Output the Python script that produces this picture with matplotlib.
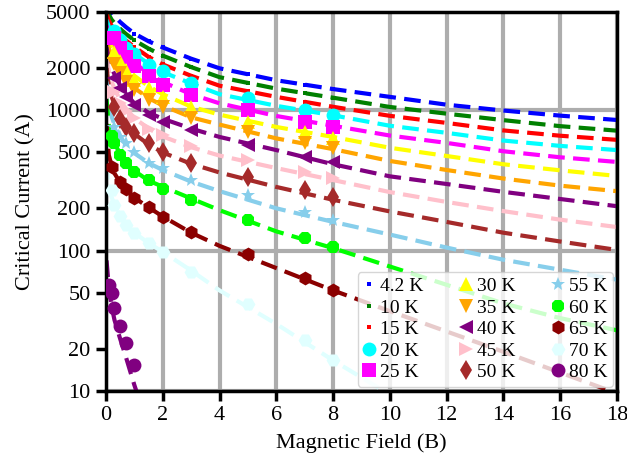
import matplotlib
matplotlib.use("Agg")
import matplotlib.pyplot as plt
from matplotlib.ticker import FixedLocator, FixedFormatter

plt.rcParams['font.family'] = ['Liberation Serif', 'DejaVu Serif']

# ---------------- data ----------------
temps = ["4.2 K", "10 K", "15 K", "20 K", "25 K", "30 K", "35 K", "40 K",
         "45 K", "50 K", "55 K", "60 K", "65 K", "70 K", "80 K"]
colors = ["#0000FF", "#008000", "#FF0000", "#00FFFF", "#FF00FF", "#FFFF00",
          "#FFA500", "#800080", "#FFC0CB", "#A52A2A", "#87CEEB", "#00FF00",
          "#8B0000", "#E0FFFF", "#800080"]
markers = ["s", "s", "s", "o", "s", "^", "v", "<", ">", "d", "*", "8", "h", "H", "o"]
msizes = [3, 3, 3, 10, 10, 10, 10, 10, 10, 10, 10, 10, 10, 10, 10]

# fitted (dashed) curves, sampled at these fields (T)
B_fit = [0.02, 0.1, 0.2, 0.3, 0.5, 0.7, 1, 1.5, 2, 3, 4, 6, 8, 10, 12, 14, 16, 18]
fit_42K = [6200, 5400, 4950, 4680, 4250, 3920, 3520, 3100, 2800, 2330, 1990, 1635, 1415, 1245, 1095, 995, 915, 852]
fit_10K = [5400, 4800, 4420, 4180, 3800, 3500, 3150, 2750, 2450, 2030, 1720, 1425, 1228, 1055, 945, 850, 770, 715]
fit_15K = [4900, 4350, 4000, 3800, 3430, 3150, 2820, 2400, 2120, 1760, 1495, 1245, 1058, 912, 812, 718, 658, 615]
fit_20K = [4400, 3950, 3650, 3450, 3120, 2850, 2530, 2140, 1870, 1550, 1300, 1075, 920, 775, 690, 608, 557, 520]
fit_25K = [4000, 3600, 3300, 3100, 2780, 2500, 2180, 1820, 1590, 1300, 1120, 910, 775, 660, 585, 510, 462, 428]
fit_30K = [3600, 3150, 2850, 2630, 2280, 2030, 1760, 1480, 1300, 1060, 930, 760, 645, 540, 472, 412, 373, 340]
fit_35K = [3200, 2750, 2450, 2230, 1900, 1680, 1440, 1220, 1080, 890, 790, 630, 528, 435, 375, 326, 290, 265]
fit_40K = [2800, 2300, 2000, 1800, 1500, 1310, 1120, 960, 870, 740, 645, 520, 412, 338, 298, 262, 233, 207]
fit_45K = [2400, 1900, 1600, 1420, 1180, 1030, 880, 740, 650, 545, 475, 387, 318, 261, 222, 191, 166, 147]
fit_50K = [2000, 1500, 1250, 1100, 900, 790, 680, 570, 500, 415, 360, 284, 230, 190, 160, 134, 116, 101]
fit_55K = [1600, 1100, 900, 790, 650, 570, 495, 420, 375, 310, 265, 200, 160, 130, 105, 86, 73, 62]
fit_60K = [1200, 780, 650, 580, 490, 430, 370, 315, 285, 235, 194, 137, 104, 77, 57, 42, 33, 27]
fit_65K = [800, 480, 400, 355, 305, 272, 238, 203, 175, 134, 108, 75, 52, 37, 26.5, 19, 13.5, 9.6]
fit_70K = [420, 290, 240, 212, 178, 155, 134, 113, 98, 72, 52, 30, 16.5, 9.4, 5.3, 3.0, 1.7, 1.0]
fit_80K = [85, 55, 40, 32, 23.5, 17.5, 11, 5.5, 3.0, 1.0, 0.5, 0.2, 0.1, 0.1, 0.1, 0.1, 0.1, 0.1]

# measured points
B_a = [1, 1.5, 2, 3, 5, 7, 8]
B_b = [0.3, 0.5, 0.7, 1, 1.5, 2, 3, 5, 7, 8]
B_c = [0.2, 0.3, 0.5, 0.7, 1, 1.5, 2, 3, 5, 7, 8]
B_d = [0.2, 0.5, 0.7, 1, 1.5, 2, 3, 5, 7, 8]
B_e = [0.1, 0.2, 0.3, 0.5, 0.7, 1]
dat_42K = [3520, 3100, 2800, 2330, 1800, 1520, 1415]
dat_10K = [3150, 2750, 2450, 2030, 1560, 1320, 1228]
dat_15K = [2820, 2400, 2120, 1760, 1360, 1140, 1058]
dat_20K = [3660, 3160, 2770, 2510, 2097, 1900, 1560, 1219, 1002, 923]
dat_25K = [3266, 2770, 2400, 2061, 1750, 1510, 1282, 1002, 824, 759]
dat_30K = [2600, 2250, 1950, 1640, 1438, 1250, 1052, 824, 699, 633]
dat_35K = [2150, 1850, 1600, 1391, 1180, 1052, 879, 699, 583, 537]
dat_40K = [1700, 1450, 1250, 1088, 923, 824, 722, 565, 464, 427]
dat_45K = [1350, 1130, 990, 879, 740, 665, 560, 441, 362, 329]
dat_50K = [1050, 870, 760, 687, 583, 503, 420, 334, 270, 240]
dat_55K = [760, 640, 583, 503, 421, 385, 318, 249, 188, 165]
dat_60K = [650, 583, 480, 421, 362, 318, 274, 229, 165, 123, 106]
dat_65K = [394, 308, 274, 237, 204, 173, 135, 94, 63.7, 52.4]
dat_70K = [270, 211, 176, 152, 133, 113, 97.7, 70.3, 41.6, 23.1, 16.6]
dat_80K = [57, 50, 39, 29, 22, 15.3]

fits = [fit_42K, fit_10K, fit_15K, fit_20K, fit_25K, fit_30K, fit_35K, fit_40K,
        fit_45K, fit_50K, fit_55K, fit_60K, fit_65K, fit_70K, fit_80K]
meas_B = [B_a, B_a, B_a, B_b, B_b, B_b, B_b, B_b, B_b, B_b, B_b, B_c, B_d, B_c, B_e]
meas_I = [dat_42K, dat_10K, dat_15K, dat_20K, dat_25K, dat_30K, dat_35K, dat_40K,
          dat_45K, dat_50K, dat_55K, dat_60K, dat_65K, dat_70K, dat_80K]

x_ticks = [0, 2, 4, 6, 8, 10, 12, 14, 16, 18]
y_major = [10, 100, 1000]
y_minor = [20, 50, 200, 500, 2000, 5000]

# ---------------- plot ----------------
fig = plt.figure(figsize=(6.27, 4.67), dpi=100)
ax = fig.add_axes([0.169, 0.163, 0.815, 0.811])

handles = []
for i in range(len(temps)):
    h, = ax.plot(meas_B[i], meas_I[i], linestyle='none', marker=markers[i],
                 markersize=msizes[i], color=colors[i], markeredgewidth=0,
                 label=temps[i], zorder=3)
    handles.append(h)
    ax.plot(B_fit, fits[i], color=colors[i], linewidth=3,
            linestyle=(0, (4, 2)), zorder=2)

ax.set_yscale('log')
ax.set_xlim(0, 18)
ax.set_ylim(10, 5000)

ax.xaxis.set_major_locator(FixedLocator(x_ticks))
ax.yaxis.set_major_locator(FixedLocator(y_major))
ax.yaxis.set_minor_locator(FixedLocator(y_minor))
ax.yaxis.set_major_formatter(FixedFormatter([str(v) for v in y_major]))
ax.yaxis.set_minor_formatter(FixedFormatter([str(v) for v in y_minor]))

ax.tick_params(axis='both', which='both', direction='out', length=7, width=2.5,
               labelsize=16, color='black', pad=4)
ax.tick_params(axis='x', which='minor', bottom=False)

ax.grid(True, which='major', color='#adadad', linewidth=3, zorder=0)
ax.set_axisbelow(True)

for sp in ax.spines.values():
    sp.set_linewidth(2.5)
    sp.set_color('black')

ax.set_xlabel("Magnetic Field (B)", fontsize=16, labelpad=6)
ax.set_ylabel("Critical Current (A)", fontsize=16, labelpad=8)

leg = ax.legend(handles=handles, ncol=3, loc='lower right', fontsize=14,
                handlelength=0.6, handletextpad=0.25, columnspacing=1.9,
                labelspacing=0.2, borderpad=0.3, borderaxespad=0.2,
                framealpha=0.8, edgecolor='#cccccc', fancybox=True)
leg.set_zorder(5)

fig.savefig("out.png", dpi=100)
